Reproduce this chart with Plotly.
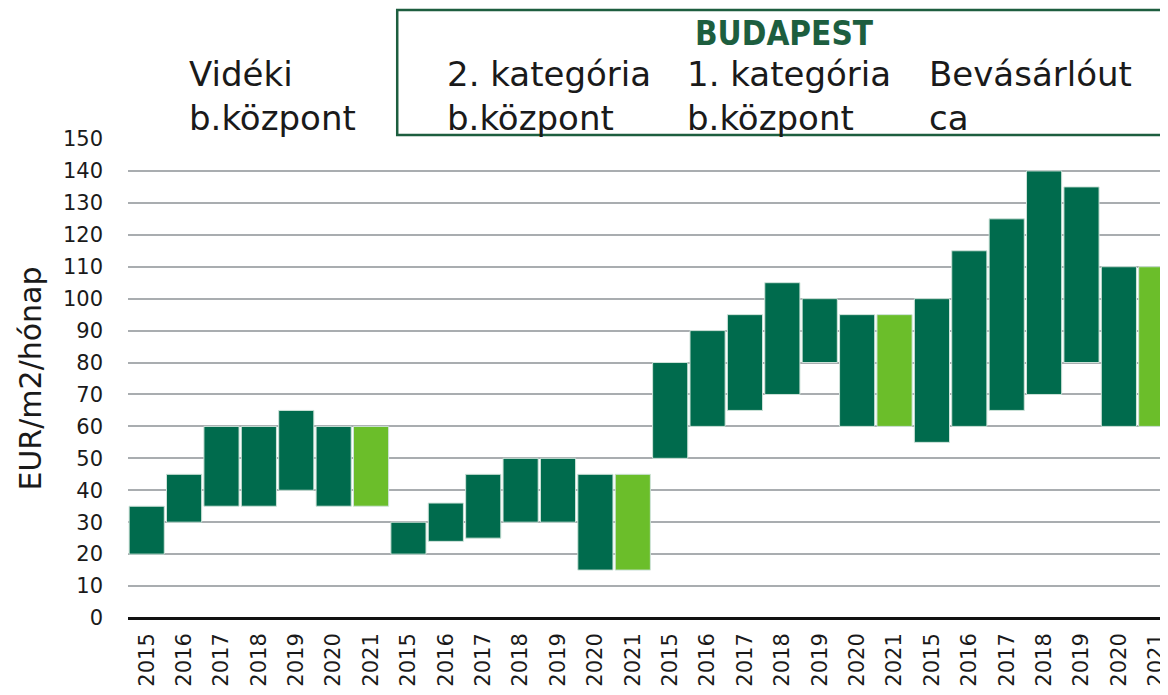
import plotly.graph_objects as go

years = ["2015", "2016", "2017", "2018", "2019", "2020", "2021"]
groups = ["Vidéki b.központ", "2. kategória b.központ", "1. kategória b.központ", "Bevásárlóutca"]

low_videki = [20, 30, 35, 35, 40, 35, 35]
high_videki = [35, 45, 60, 60, 65, 60, 60]
low_kat2 = [20, 24, 25, 30, 30, 15, 15]
high_kat2 = [30, 36, 45, 50, 50, 45, 45]
low_kat1 = [50, 60, 65, 70, 80, 60, 60]
high_kat1 = [80, 90, 95, 105, 100, 95, 95]
low_utca = [55, 60, 65, 70, 80, 60, 60]
high_utca = [100, 115, 125, 140, 135, 110, 110]

DARK = "#006B4D"
LIGHT = "#6BBE2A"

lows = low_videki + low_kat2 + low_kat1 + low_utca
highs = high_videki + high_kat2 + high_kat1 + high_utca
n = len(lows)
xs = list(range(n))
ticktext = years * 4
colors = [LIGHT if ticktext[i] == "2021" else DARK for i in range(n)]

fig = go.Figure()
fig.add_trace(go.Bar(
    x=xs,
    y=[h - l for h, l in zip(highs, lows)],
    base=lows,
    marker=dict(color=colors, line=dict(color="#cfe3da", width=1)),
    width=0.94,
    hoverinfo="skip",
))

# page body has an 8px margin; coordinates below are in screen pixels
OFF = 8
W, H = 1160, 687
L, R, T, B = 128 - OFF, 0, 139 - OFF, 77
pw = W - L - R
ph = H - T - B

def px_x(p):
    return (p - OFF - L) / pw

def px_y(p):
    return (H - B - (p - OFF)) / ph

fig.update_layout(
    width=W, height=H,
    margin=dict(l=L, r=R, t=T, b=B),
    paper_bgcolor="white", plot_bgcolor="white",
    showlegend=False,
    font=dict(family="DejaVu Sans, sans-serif", color="#1a1a1a"),
    xaxis=dict(
        range=[-0.5, -0.5 + pw / 37.5],
        tickmode="array", tickvals=xs, ticktext=ticktext,
        tickangle=-90, tickfont=dict(size=21, family="DejaVu Sans", color="#1a1a1a"),
        showgrid=False, zeroline=False, showline=False, ticks="",
        ticklabelstandoff=10, ticklabeloverflow="allow",
    ),
    yaxis=dict(
        range=[0, 150], dtick=10,
        tickfont=dict(size=21, family="DejaVu Sans", color="#1a1a1a"),
        showgrid=True, gridcolor="#a9adb0", gridwidth=1.5,
        zeroline=True, zerolinecolor="#111111", zerolinewidth=3,
        title=dict(text="EUR/m2/hónap", font=dict(size=30, family="DejaVu Sans"), standoff=12),
        ticks="", ticklabelstandoff=24,
    ),
)

# Budapest box
fig.add_shape(type="rect", xref="paper", yref="paper",
              x0=px_x(398), x1=px_x(1185), y0=px_y(135), y1=px_y(10),
              line=dict(color="#1d5e3f", width=2.5), fillcolor="rgba(0,0,0,0)", layer="above")

fig.add_annotation(xref="paper", yref="paper", x=px_x(786), y=px_y(34),
                   text="<b>BUDAPEST</b>", showarrow=False,
                   font=dict(size=33, family="Liberation Sans Narrow, DejaVu Sans Condensed", color="#1d5e3f"),
                   xanchor="center", yanchor="middle")

labels = ["Vidéki<br>b.központ", "2. kategória<br>b.központ", "1. kategória<br>b.központ", "Bevásárlóut<br>ca"]
label_x = [187, 446, 687, 929]
for t, lx in zip(labels, label_x):
    fig.add_annotation(xref="paper", yref="paper", x=px_x(lx), y=px_y(96),
                       text=t, showarrow=False, align="left",
                       font=dict(size=34, family="DejaVu Sans", color="#1a1a1a"),
                       xanchor="left", yanchor="middle")

fig.write_html("out.html")
